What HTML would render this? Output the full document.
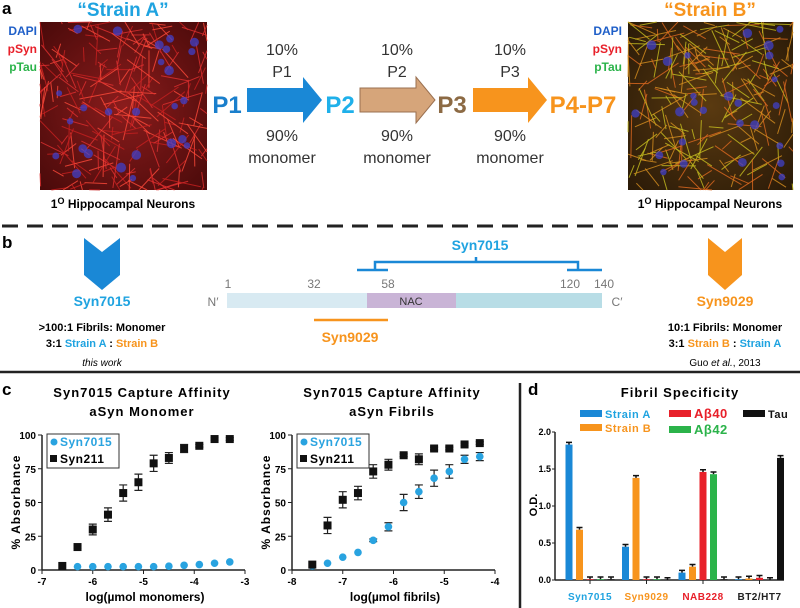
<!DOCTYPE html>
<html><head><meta charset="utf-8"><style>
html,body{margin:0;padding:0;background:#fff;width:800px;height:608px;overflow:hidden}
svg{display:block;font-family:"Liberation Sans",sans-serif}
</style></head><body>
<svg id="fig" width="800" height="608" viewBox="0 0 800 608" xmlns="http://www.w3.org/2000/svg">
<defs>
<radialGradient id="gA" cx="50%" cy="50%" r="70%"><stop offset="0" stop-color="#8a1c1c"/><stop offset="1" stop-color="#4a0a0a"/></radialGradient>
<radialGradient id="gB" cx="50%" cy="50%" r="70%"><stop offset="0" stop-color="#5a3a10"/><stop offset="1" stop-color="#2a1a08"/></radialGradient>
</defs>
<!-- Panel a -->
<text x="2" y="14" font-size="17" font-weight="bold">a</text>
<text x="123" y="16" font-size="19" font-weight="bold" fill="#1fa3e0" text-anchor="middle">“Strain A”</text>
<text x="710" y="16" font-size="19" font-weight="bold" fill="#f7941d" text-anchor="middle">“Strain B”</text>
<g><rect x="40" y="22" width="167" height="168" fill="url(#gA)"/><g id="imgA"></g></g>
<g><rect x="628" y="22" width="165" height="168" fill="url(#gB)"/><g id="imgB"></g></g>
<g font-size="12" font-weight="bold" text-anchor="end">
<text x="37" y="35" fill="#1f5fc8">DAPI</text><text x="37" y="53" fill="#e8202a">pSyn</text><text x="37" y="71" fill="#2bb34a">pTau</text></g>
<g font-size="12" font-weight="bold" text-anchor="end">
<text x="622" y="35" fill="#1f5fc8">DAPI</text><text x="622" y="53" fill="#e8202a">pSyn</text><text x="622" y="71" fill="#2bb34a">pTau</text></g>
<text x="123" y="208" font-size="12" font-weight="bold" text-anchor="middle">1<tspan font-size="9" dy="-4">O</tspan><tspan dy="4"> Hippocampal Neurons</tspan></text>
<text x="710" y="208" font-size="12" font-weight="bold" text-anchor="middle">1<tspan font-size="9" dy="-4">O</tspan><tspan dy="4"> Hippocampal Neurons</tspan></text>
<g font-size="24" font-weight="bold" text-anchor="middle">
<text x="227" y="113" fill="#1a7fcc">P1</text><text x="340" y="113" fill="#1fb0ea">P2</text><text x="452" y="113" fill="#8c6a44">P3</text><text x="583" y="113" fill="#f7941d">P4-P7</text></g>
<polygon points="247,88 303,88 303,77 322,100 303,123 303,112 247,112" fill="#1a88d6"/>
<polygon points="360,88 416,88 416,77 435,100 416,123 416,112 360,112" fill="#d6a57a" stroke="#9a7050" stroke-width="1"/>
<polygon points="473,88 528,88 528,77 547,100 528,123 528,112 473,112" fill="#f7941d"/>
<g font-size="16" fill="#333" text-anchor="middle">
<text x="282" y="55">10%</text><text x="282" y="77">P1</text><text x="282" y="141">90%</text><text x="282" y="163">monomer</text>
<text x="397" y="55">10%</text><text x="397" y="77">P2</text><text x="397" y="141">90%</text><text x="397" y="163">monomer</text>
<text x="510" y="55">10%</text><text x="510" y="77">P3</text><text x="510" y="141">90%</text><text x="510" y="163">monomer</text></g>
<line x1="2" y1="226" x2="798" y2="226" stroke="#222" stroke-width="3" stroke-dasharray="16,9"/>
<!-- Panel b -->
<text x="2" y="248" font-size="17" font-weight="bold">b</text>
<polygon points="84,238 102,252 120,238 120,275 102,290 84,275" fill="#1a88d6"/>
<polygon points="708,238 725,252 742,238 742,275 725,290 708,275" fill="#f7941d"/>
<text x="102" y="306" font-size="14" font-weight="bold" fill="#1fa3e0" text-anchor="middle">Syn7015</text>
<text x="725" y="306" font-size="14" font-weight="bold" fill="#f7941d" text-anchor="middle">Syn9029</text>
<g font-size="11" font-weight="bold" text-anchor="middle">
<text x="102" y="331">&gt;100:1 Fibrils: Monomer</text>
<text x="102" y="347">3:1 <tspan fill="#1fa3e0">Strain A</tspan> : <tspan fill="#f7941d">Strain B</tspan></text>
<text x="102" y="366" font-weight="normal" font-style="italic" font-size="10">this work</text></g>
<g font-size="11" font-weight="bold" text-anchor="middle">
<text x="725" y="331">10:1 Fibrils: Monomer</text>
<text x="725" y="347">3:1 <tspan fill="#f7941d">Strain B</tspan> : <tspan fill="#1fa3e0">Strain A</tspan></text>
<text x="725" y="366" font-weight="normal" font-size="10">Guo <tspan font-style="italic">et al.</tspan>, 2013</text></g>
<g>
<rect x="227" y="293" width="140" height="15" fill="#d8eaf2"/><rect x="367" y="293" width="89" height="15" fill="#c9b4d6"/><rect x="456" y="293" width="146" height="15" fill="#b8dde6"/>
<text x="411" y="305" font-size="11" text-anchor="middle" fill="#333">NAC</text>
<g font-size="12" fill="#777" text-anchor="middle"><text x="213" y="306">N′</text><text x="617" y="306">C′</text>
<text x="228" y="288">1</text><text x="314" y="288">32</text><text x="388" y="288">58</text><text x="570" y="288">120</text><text x="604" y="288">140</text></g>
<path d="M357,270 H388 M375,270 V262 H476 V257 M476,262 H578 V270 M567,270 H602" stroke="#1a88d6" stroke-width="2.5" fill="none"/>
<text x="480" y="250" font-size="14" font-weight="bold" fill="#1fa3e0" text-anchor="middle">Syn7015</text>
<line x1="314" y1="320" x2="388" y2="320" stroke="#f7941d" stroke-width="2.5"/>
<text x="350" y="342" font-size="14" font-weight="bold" fill="#f7941d" text-anchor="middle">Syn9029</text></g>
<line x1="0" y1="372" x2="800" y2="372" stroke="#222" stroke-width="2.5"/>
<line x1="520" y1="383" x2="520" y2="608" stroke="#222" stroke-width="2.5"/>
<text x="2" y="395" font-size="17" font-weight="bold">c</text>
<text x="528" y="395" font-size="17" font-weight="bold">d</text>
<g id="charts"></g>
</svg>
<script>
// ---- data ----
const monoX = [-6.6,-6.3,-6.0,-5.7,-5.4,-5.1,-4.8,-4.5,-4.2,-3.9,-3.6,-3.3];
const monoSyn211 = [3,17,30,41,57,65,79,83,90,92,97,97];
const monoSyn211Err = [0,1,4,5,6,6,6,4,3,1,1,1];
const monoSyn7015 = [3,2.5,2.5,2.5,2.5,2.5,2.5,2.8,3.5,4,5,6];
const fibX = [-7.6,-7.3,-7.0,-6.7,-6.4,-6.1,-5.8,-5.5,-5.2,-4.9,-4.6,-4.3];
const fibSyn211 = [4,33,52,57,73,78,85,82,90,90,93,94];
const fibSyn211Err = [0,6,6,5,5,4,1,4,1,1,1,1];
const fibSyn7015 = [3,5,9.5,13,22,32,50,58,68,73,82,84];
const fibSyn7015Err = [0,0,0,0,1,3,6,5,6,5,3,3];
const yTicks = [0,25,50,75,100];
const monoXTicks = [-7,-6,-5,-4,-3];
const fibXTicks = [-8,-7,-6,-5,-4];
const groups = ["Syn7015","Syn9029","NAB228","BT2/HT7"];
const groupColors = ["#1fa3e0","#f7941d","#e8202a","#222"];
const strainA = [1.83,0.45,0.10,0.01];
const strainB = [0.68,1.38,0.18,0.02];
const abeta40 = [0.01,0.01,1.46,0.03];
const abeta42 = [0.01,0.01,1.43,0.0];
const tau = [0.01,0.0,0.01,1.65];
const odTicks = [0.0,0.5,1.0,1.5,2.0];

const NS="http://www.w3.org/2000/svg";
const root=document.getElementById('charts');
function mk(tag,attrs,parent,txt){const e=document.createElementNS(NS,tag);for(const k in attrs)e.setAttribute(k,attrs[k]);if(txt!==undefined)e.textContent=txt;(parent||root).appendChild(e);return e;}

// microscopy textures (decorative)
function tex(id,x0,y0,w,h,lineCols,seed){
  const g=document.getElementById(id);let s=seed;
  const r=()=>{s=(s*9301+49297)%233280;return s/233280;};
  for(let i=0;i<220;i++){const x=x0+r()*w,y=y0+r()*h,a=r()*6.28,l=10+r()*35;
    mk('line',{x1:x,y1:y,x2:Math.min(x0+w,Math.max(x0,x+Math.cos(a)*l)),y2:Math.min(y0+h,Math.max(y0,y+Math.sin(a)*l)),stroke:lineCols[i%lineCols.length],'stroke-width':1,opacity:0.8},g);}
  for(let i=0;i<26;i++){mk('circle',{cx:x0+6+r()*(w-12),cy:y0+6+r()*(h-12),r:3+r()*2,fill:'#4040c8',opacity:0.75},g);}
}
tex('imgA',40,22,167,168,['#e03030','#ff4a3a','#c82020'],7);
tex('imgB',628,22,165,168,['#d89020','#c8c020','#e06a20'],11);

function scatterChart(name,cx,xTicks,xmin,xmax,xs,s211,e211,s7015,e7015,title2,xlabel){
  const XW=203,left=cx,Y0=570,YH=135;
  const g=mk('g',{});
  
  
  const sx=v=>left+(v-xmin)/(xmax-xmin)*XW, sy=v=>Y0-v/100*YH;
  const t=mk('text',{x:left+100,y:397,'font-size':13,'font-weight':'bold','text-anchor':'middle','letter-spacing':'1'},g,'Syn7015 Capture Affinity');
  
  
  mk('text',{x:left+100,y:416,'font-size':13,'font-weight':'bold','text-anchor':'middle','letter-spacing':'1'},g,title2);
  mk('line',{x1:left,y1:Y0,x2:left+XW,y2:Y0,stroke:'#222','stroke-width':1.5},g);
  mk('line',{x1:left,y1:Y0,x2:left,y2:sy(100),stroke:'#222','stroke-width':1.5},g);
  yTicks.forEach(v=>{mk('line',{x1:left-4,y1:sy(v),x2:left,y2:sy(v),stroke:'#222'},g);
    mk('text',{x:left-6,y:sy(v)+4,'font-size':10,'font-weight':'bold','text-anchor':'end'},g,String(v));});
  xTicks.forEach(v=>{mk('line',{x1:sx(v),y1:Y0,x2:sx(v),y2:Y0+4,stroke:'#222'},g);
    mk('text',{x:sx(v),y:Y0+15,'font-size':10,'font-weight':'bold','text-anchor':'middle'},g,String(v));});
  const yl=mk('text',{x:0,y:0,'font-size':12,'font-weight':'bold','text-anchor':'middle',transform:`translate(${left-22},${Y0-68}) rotate(-90)`,'letter-spacing':'1'},g,'% Absorbance');
  
  
  const xl=mk('text',{x:left+103,y:601,'font-size':12,'font-weight':'bold','text-anchor':'middle'},g,xlabel);
  
  
  xs.forEach((x,i)=>{
    const px=sx(x);
    if(e7015){const e=e7015[i];if(e>0){mk('path',{d:`M${px},${sy(s7015[i]-e)}V${sy(s7015[i]+e)}M${px-4},${sy(s7015[i]-e)}h8M${px-4},${sy(s7015[i]+e)}h8`,stroke:'#222','stroke-width':1.2,fill:'none'},g);}}
    const c=mk('circle',{cx:px,cy:sy(s7015[i]),r:3.8,fill:'#29a3e0'},g);
    
    
    const e=e211[i];
    if(e>0)mk('path',{d:`M${px},${sy(s211[i]-e)}V${sy(s211[i]+e)}M${px-4},${sy(s211[i]-e)}h8M${px-4},${sy(s211[i]+e)}h8`,stroke:'#222','stroke-width':1.2,fill:'none'},g);
    const r=mk('rect',{x:px-4,y:sy(s211[i])-4,width:8,height:8,fill:'#111'},g);
    
    
  });
  const lg=mk('g',{},g);
  
  
  mk('rect',{x:left+5,y:434,width:72,height:34,fill:'#fff',stroke:'#333','stroke-width':1},lg);
  mk('circle',{cx:left+12,cy:442,r:3.5,fill:'#29a3e0'},lg);
  mk('text',{x:left+18,y:446,'font-size':12,'font-weight':'bold',fill:'#29a3e0','letter-spacing':'0.5'},lg,'Syn7015');
  mk('rect',{x:left+8,y:455,width:7,height:7,fill:'#111'},lg);
  mk('text',{x:left+18,y:463,'font-size':12,'font-weight':'bold','letter-spacing':'0.5'},lg,'Syn211');
}
scatterChart('chart-monomer',42,monoXTicks,-7,-3,monoX,monoSyn211,monoSyn211Err,monoSyn7015,null,'aSyn Monomer','log(µmol monomers)');
scatterChart('chart-fibrils',292,fibXTicks,-8,-4,fibX,fibSyn211,fibSyn211Err,fibSyn7015,fibSyn7015Err,'aSyn Fibrils','log(µmol fibrils)');

// bar chart d
(function(){
  const g=mk('g',{});
  
  
  const L=555,R=784,Y0=580,YH=148;
  const sy=v=>Y0-v/2*YH;
  mk('text',{x:680,y:397,'font-size':13,'font-weight':'bold','text-anchor':'middle','letter-spacing':'1'},g,'Fibril Specificity');
  mk('line',{x1:L,y1:Y0,x2:R,y2:Y0,stroke:'#222','stroke-width':1.5},g);
  mk('line',{x1:L,y1:Y0,x2:L,y2:sy(2),stroke:'#222','stroke-width':1.5},g);
  odTicks.forEach(v=>{mk('line',{x1:L-3,y1:sy(v),x2:L,y2:sy(v),stroke:'#222'},g);
    mk('text',{x:L-4,y:sy(v)+3,'font-size':9,'font-weight':'bold','text-anchor':'end'},g,v.toFixed(1));});
  const yl=mk('text',{x:0,y:0,'font-size':11,'font-weight':'bold','text-anchor':'middle',transform:`translate(537,505) rotate(-90)`},g,'O.D.');
  
  
  const series=[strainA,strainB,abeta40,abeta42,tau];
  const cols=['#1a88d6','#f7941d','#e8202a','#2bb34a','#111'];
  const names=['strain-a','strain-b','abeta40','abeta42','tau'];
  groups.forEach((gname,gi)=>{
    const gx=L+14+gi*56.5;
    series.forEach((s,si)=>{
      const x=gx+si*10.5, v=s[gi];
      const b=mk('rect',{x:x-3.5,y:sy(v),width:7,height:Y0-sy(v),fill:cols[si]},g);
      
      
      mk('path',{d:`M${x},${sy(v)}V${sy(v+0.03)}M${x-3},${sy(v+0.03)}h6`,stroke:'#111','stroke-width':1.5},g);
    });
    mk('line',{x1:gx+21,y1:Y0,x2:gx+21,y2:Y0+4,stroke:'#222'},g);
    mk('text',{x:gx+21,y:600,'font-size':10,'font-weight':'bold',fill:groupColors[gi],'text-anchor':'middle','letter-spacing':'0.5'},g,gname);
  });
  const lg=mk('g',{},g);
  
  
  const items=[[580,416,'#1a88d6','Strain A','#1fa3e0'],[580,430,'#f7941d','Strain B','#f7941d'],[669,416,'#e8202a','Aβ40','#e8202a'],[669,432,'#2bb34a','Aβ42','#2bb34a'],[743,416,'#111','Tau','#111']];
  items.forEach(it=>{mk('rect',{x:it[0],y:it[1]-6,width:22,height:7,fill:it[2]},lg);
    mk('text',{x:it[0]+25,y:it[1]+2,'font-size':it[3].startsWith('A')&&it[3].length<5?13:11,'font-weight':'bold',fill:it[4],'letter-spacing':'0.5'},lg,it[3]);});
})();
</script>
</body></html>
